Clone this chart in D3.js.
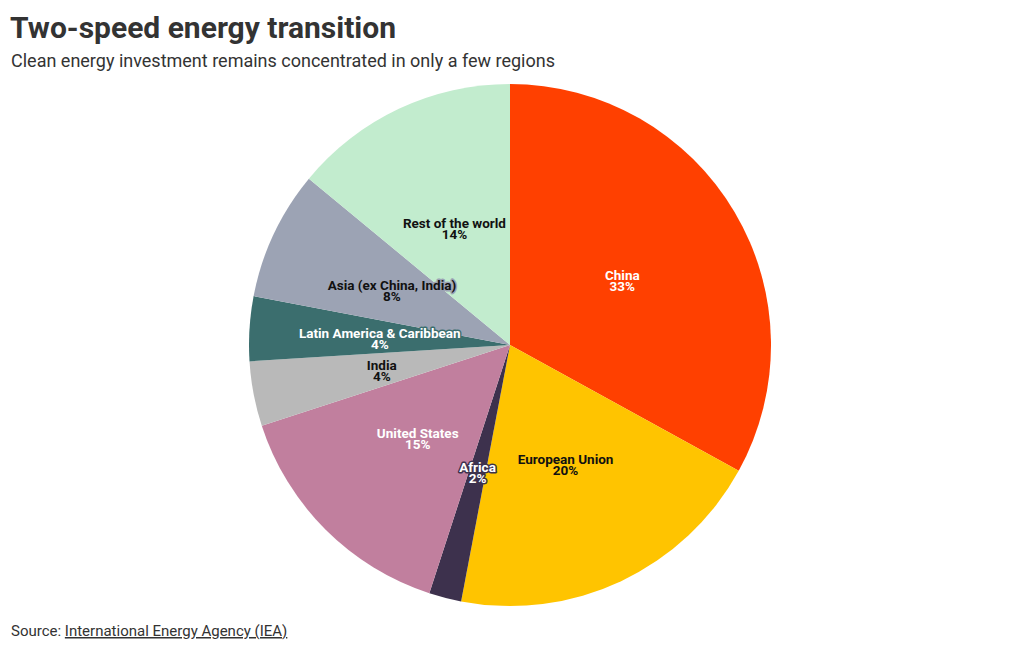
<!DOCTYPE html>
<html>
<head>
<meta charset="utf-8">
<script src="https://cdn.jsdelivr.net/npm/d3@7"></script>
<style>
  body { margin: 0; background: #fff; }
  svg { display: block; }
</style>
</head>
<body>
<svg id="chart" width="1020" height="650"></svg>
<script>
// data (share of clean energy investment, %)
var regions = ['China', 'European Union', 'Africa', 'United States', 'India',
  'Latin America & Caribbean', 'Asia (ex China, India)', 'Rest of the world']
var shares = [33, 20, 2, 15, 4, 4, 8, 14]
var colors = ['#ff4000', '#ffc400', '#3d314d', '#c17f9e', '#b9b9b9', '#3b6e6e', '#9ca3b4', '#c2ecce']
var textColors = ['#fff', '#111', '#fff', '#fff', '#111', '#fff', '#111', '#111']

var svg = d3.select('#chart')
var font = 'Roboto, "Open Sans", sans-serif'

// titles
svg.append('text').attr('x', 10).attr('y', 38)
  .attr('font-family', font).attr('font-weight', 700).attr('font-size', 30)
  .attr('fill', '#333').text('Two-speed energy transition')
svg.append('text').attr('x', 11).attr('y', 67)
  .attr('font-family', font).attr('font-size', 18)
  .attr('fill', '#333').text('Clean energy investment remains concentrated in only a few regions')

var cx = 510, cy = 345, r = 261
var data = regions.map((d, i) => ({name: d, value: shares[i], color: colors[i], text: textColors[i]}))

var pie = d3.pie().value(d => d.value).sort(null)
var arc = d3.arc().innerRadius(0).outerRadius(r)

var g = svg.append('g').attr('transform', 'translate(' + cx + ',' + cy + ')')
var arcs = pie(data)

g.selectAll('path').data(arcs).enter()
  .append('path')
  .attr('d', arc)
  .attr('fill', d => d.data.color)

// labels at centroid
var labels = g.selectAll('text.lbl').data(arcs).enter()
  .append('text')
  .attr('class', 'lbl')
  .attr('transform', d => 'translate(' + arc.centroid(d) + ')')
  .attr('text-anchor', 'middle')
  .attr('font-family', font)
  .attr('font-weight', 700)
  .attr('font-size', 13.5)
  .attr('fill', d => d.data.text)
  .attr('stroke', d => d.data.color)
  .attr('stroke-width', 3)
  .attr('stroke-linejoin', 'round')
  .attr('paint-order', 'stroke')

labels.append('tspan').attr('x', 0).attr('y', 1).text(d => d.data.name)
labels.append('tspan').attr('x', 0).attr('y', 12).text(d => d.data.value + '%')

// source line
var src = svg.append('text').attr('x', 11).attr('y', 636)
  .attr('font-family', font).attr('font-size', 15).attr('fill', '#333')
src.append('tspan').text('Source: ')
src.append('tspan').attr('text-decoration', 'underline').text('International Energy Agency (IEA)')
</script>
</body>
</html>
